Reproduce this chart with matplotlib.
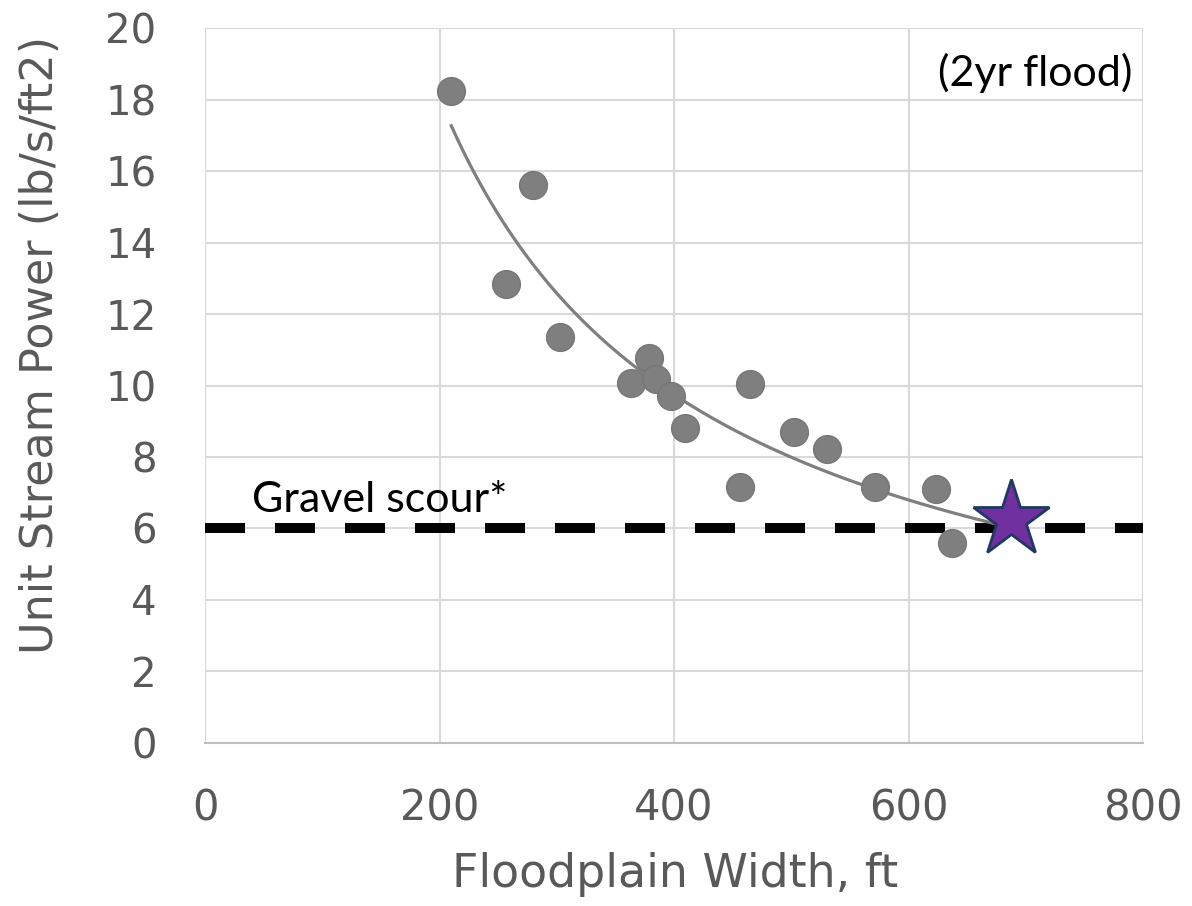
import numpy as np
import matplotlib.pyplot as plt

# floodplain width (ft) vs unit stream power (lb/s/ft2), 2yr flood
width = [210, 280, 257, 303, 379, 363, 385, 397, 409, 465, 456, 502, 530, 571, 623, 637]
power = [18.25, 15.6, 12.84, 11.36, 10.77, 10.07, 10.18, 9.71, 8.81, 10.04, 7.16, 8.70, 8.22, 7.16, 7.10, 5.59]

star_x = [687]
star_y = [6.27]

gravel_scour = 6

# power-law trendline fitted to the points
b, log_a = np.polyfit(np.log(width), np.log(power), 1)
xt = np.linspace(min(width), star_x[0], 200)
yt = np.exp(log_a) * xt**b

fig = plt.figure(figsize=(11.92, 9.06), dpi=100)
ax = fig.add_axes([0.172, 0.18, 0.787, 0.789])

grey = "#595959"
ax.axhline(gravel_scour, color="black", lw=7.2, dashes=(4, 3), zorder=2)
ax.plot(xt, yt, color="#7f7f7f", lw=2.3, zorder=3)
ax.scatter(width, power, s=400, color="#7f7f7f", edgecolor="#767676", lw=1, zorder=4)
ax.plot(star_x, star_y, marker="*", ms=58, color="#7030a0",
        markeredgecolor="#1f3864", markeredgewidth=2, ls="none", zorder=5)

ax.text(40, 6.46, "Gravel scour*", fontsize=31, family="Lato", color="black", va="baseline")
ax.text(791, 18.38, "(2yr flood)", fontsize=31, family="Lato", color="black", va="baseline", ha="right")

ax.set_xlim(0, 800)
ax.set_ylim(0, 20)
ax.set_xticks(range(0, 801, 200))
ax.set_yticks(range(0, 21, 2))
ax.grid(True, color="#d9d9d9", lw=1.5)
ax.set_axisbelow(True)
for s in ["top", "right", "left"]:
    ax.spines[s].set_visible(False)
ax.spines["bottom"].set_color("#bfbfbf")
ax.spines["bottom"].set_linewidth(1.5)
ax.tick_params(length=0, labelcolor=grey)
ax.tick_params(axis="y", pad=35, labelsize=29)
ax.tick_params(axis="x", pad=32, labelsize=30)

ax.set_xlabel("Floodplain Width, ft", fontsize=33, color=grey)
ax.set_ylabel("Unit Stream Power (lb/s/ft2)", fontsize=32, color=grey)
ax.xaxis.set_label_coords(0.501, -0.152)
ax.xaxis.label.set_va("top")
ax.yaxis.set_label_coords(-0.175, 0.557)
ax.yaxis.label.set_va("center")

fig.savefig("out.png", dpi=100)
